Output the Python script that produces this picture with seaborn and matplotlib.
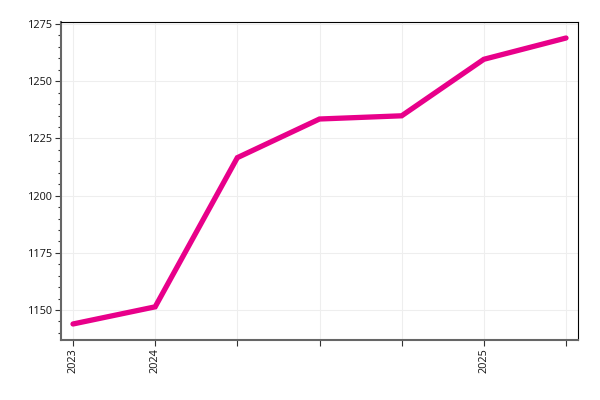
import matplotlib
matplotlib.use('Agg')
import matplotlib.pyplot as plt
from matplotlib.ticker import MultipleLocator
import numpy as np
import pandas as pd
import seaborn as sns

positions = [0, 1, 2, 3, 4, 5, 6]
values = [1143.9, 1151.4, 1216.6, 1233.5, 1234.9, 1259.6, 1268.9]
tick_labels = ['2023', '2024', '', '', '', '2025', '']

df = pd.DataFrame({'pos': positions, 'value': values})

sns.set_style('white')
plt.rcParams['font.family'] = ['Open Sans', 'DejaVu Sans']

fig = plt.figure(figsize=(6, 4), dpi=100)
ax = fig.add_axes([61 / 600, 60 / 400, 517 / 600, 318 / 400])

sns.lineplot(data=df, x='pos', y='value', ax=ax, color='#e8008a',
             linewidth=3.8, solid_capstyle='round', solid_joinstyle='miter')

ax.set_xlim(-0.146, 6.146)
ax.set_ylim(1136.9, 1275.9)
ax.set_xticks(positions)
ax.set_xticklabels(tick_labels, rotation=90, fontsize=7.8)
ax.yaxis.set_major_locator(MultipleLocator(25))
ax.yaxis.set_minor_locator(MultipleLocator(5))
ax.tick_params(axis='y', which='major', labelsize=7.8, length=4, width=0.8,
               color='#333333', labelcolor='#111111', left=True, pad=2)
ax.tick_params(axis='y', which='minor', length=2.5, width=0.8,
               color='#333333', left=True)
ax.tick_params(axis='x', which='major', length=4, width=0.8,
               color='#333333', labelcolor='#111111', bottom=True, pad=2)
ax.grid(True, which='major', color='#eeeeee', linewidth=0.8)
ax.set_axisbelow(True)
ax.set_xlabel('')
ax.set_ylabel('')

for side in ['left', 'bottom']:
    ax.spines[side].set_color('#666666')
    ax.spines[side].set_linewidth(1.5)
for side in ['top', 'right']:
    ax.spines[side].set_color('black')
    ax.spines[side].set_linewidth(0.8)

fig.savefig('out.png', dpi=100)
